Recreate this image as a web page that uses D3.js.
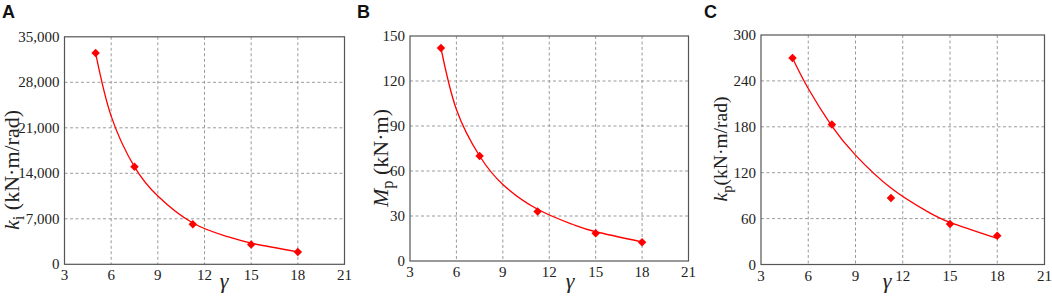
<!DOCTYPE html>
<html>
<head>
<meta charset="utf-8">
<script src="https://cdn.jsdelivr.net/npm/d3@7"></script>
<style>
  body { margin: 0; background: #fff; }
  svg { display: block; }
  .serif { font-family: "Liberation Serif", "Times New Roman", serif; }
</style>
</head>
<body>
<div id="chart"></div>
<script>
// measured points
const gamma = [5, 7.5, 11.25, 15, 18]
const kiValues = [32500, 15000, 6150, 3050, 1900]
const mpValues = [142, 70, 33, 18.5, 12.5]
const kpValues = [270, 183, 87, 53, 37.5]

// fitted curves
const fitGamma = [5, 6, 7.5, 9, 11.25, 13.5, 15, 18]
const kiFit = [32500, 22800, 15000, 10500, 6350, 4250, 3250, 1900]
const mpFit = [142, 101, 70, 51, 34.5, 24.5, 19.5, 12.8]
const kpFit = [270, 230, 181, 143, 100, 70, 55, 34]

// ticks
const xTicks = [3, 6, 9, 12, 15, 18, 21]
const kiTicks = [0, 7000, 14000, 21000, 28000, 35000]
const mpTicks = [0, 30, 60, 90, 120, 150]
const kpTicks = [0, 60, 120, 180, 240, 300]

const width = 1052
const height = 296

const svg = d3.select("#chart")
  .append("svg")
  .attr("width", width)
  .attr("height", height)
  .attr("viewBox", [0, 0, width, height])

const panels = [
  { letter: "A", lx: 2, left: 64.5, right: 344.5, top: 36.8, bottom: 264.3,
    values: kiValues, fit: kiFit, yTicks: kiTicks, fmt: d3.format(","),
    title: ["k", "i", " (kN·m/rad)"], titleSize: 22, titleX: 19, titleY: 170, gx: 224 },
  { letter: "B", lx: 357, left: 410, right: 688.5, top: 36, bottom: 261,
    values: mpValues, fit: mpFit, yTicks: mpTicks, fmt: d3.format("d"),
    title: ["M", "p", " (kN·m)"], titleSize: 22, titleX: 388, titleY: 158, gx: 570 },
  { letter: "C", lx: 704, left: 761, right: 1044.5, top: 35, bottom: 264.5,
    values: kpValues, fit: kpFit, yTicks: kpTicks, fmt: d3.format("d"),
    title: ["k", "p", "(kN·m/rad)"], titleSize: 19.5, titleX: 727, titleY: 149, gx: 887 }
]

function drawPanel(p) {
  const x = d3.scaleLinear().domain([3, 21]).range([p.left, p.right])
  const y = d3.scaleLinear().domain([0, d3.max(p.yTicks)]).range([p.bottom, p.top])
  const g = svg.append("g")

  // grid
  g.selectAll(".vgrid")
    .data(xTicks.slice(1, -1))
    .enter().append("line")
    .attr("x1", d => x(d)).attr("x2", d => x(d))
    .attr("y1", p.top).attr("y2", p.bottom)
    .attr("stroke", "#9a9a9a").attr("stroke-width", 1)
    .attr("stroke-dasharray", "3,2.5")
  g.selectAll(".hgrid")
    .data(p.yTicks.slice(1, -1))
    .enter().append("line")
    .attr("x1", p.left).attr("x2", p.right)
    .attr("y1", d => y(d)).attr("y2", d => y(d))
    .attr("stroke", "#9a9a9a").attr("stroke-width", 1)
    .attr("stroke-dasharray", "3,2.5")

  // frame
  g.append("rect")
    .attr("x", p.left).attr("y", p.top)
    .attr("width", p.right - p.left).attr("height", p.bottom - p.top)
    .attr("fill", "none").attr("stroke", "#555").attr("stroke-width", 1.2)

  // tick labels
  g.selectAll(".xt")
    .data(xTicks)
    .enter().append("text")
    .attr("class", "serif")
    .attr("x", d => x(d)).attr("y", p.bottom + 16)
    .attr("text-anchor", "middle")
    .style("font-size", "15px").style("fill", "#222")
    .text(d => d)
  g.selectAll(".yt")
    .data(p.yTicks)
    .enter().append("text")
    .attr("class", "serif")
    .attr("x", p.left - 5).attr("y", d => y(d) + 5)
    .attr("text-anchor", "end")
    .style("font-size", "15px").style("fill", "#222")
    .text(d => p.fmt(d))

  // fitted curve
  const line = d3.line()
    .x(d => x(d[0]))
    .y(d => y(d[1]))
    .curve(d3.curveNatural)
  g.append("path")
    .datum(d3.zip(fitGamma, p.fit))
    .attr("d", line)
    .attr("fill", "none").attr("stroke", "#ff0000").attr("stroke-width", 1.3)

  // markers
  g.selectAll(".pt")
    .data(d3.zip(gamma, p.values))
    .enter().append("path")
    .attr("d", d3.symbol(d3.symbolSquare).size(36))
    .attr("transform", d => `translate(${x(d[0])},${y(d[1])}) rotate(45)`)
    .attr("fill", "#ff0000")

  // x label
  g.append("text")
    .attr("class", "serif")
    .attr("x", p.gx).attr("y", 288)
    .attr("text-anchor", "middle")
    .style("font-style", "italic")
    .style("font-size", "22px").style("fill", "#222")
    .text("γ")

  // y title
  const t = g.append("text")
    .attr("class", "serif")
    .attr("transform", `translate(${p.titleX},${p.titleY}) rotate(-90)`)
    .attr("text-anchor", "middle")
    .style("font-size", `${p.titleSize}px`).style("fill", "#222")
  t.append("tspan").style("font-style", "italic").text(p.title[0])
  t.append("tspan").attr("dy", 5).style("font-size", `${p.titleSize * 0.75}px`).text(p.title[1])
  t.append("tspan").attr("dy", -5).text(p.title[2])

  // panel letter
  svg.append("text")
    .attr("x", p.lx).attr("y", 18)
    .style("font-family", "'Liberation Sans', Arial, sans-serif")
    .style("font-weight", "bold").style("font-size", "18px").style("fill", "#111")
    .text(p.letter)
}

panels.forEach(drawPanel)
</script>
</body>
</html>
